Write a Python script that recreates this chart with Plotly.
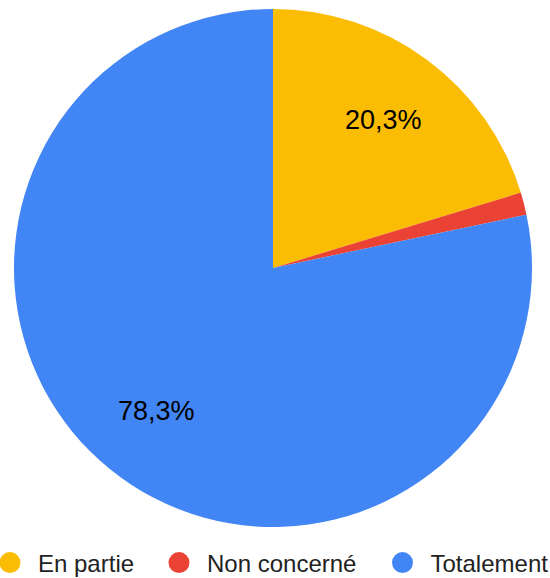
import math
import plotly.graph_objects as go

categories = ["En partie", "Non concerné", "Totalement"]
values = [20.3, 1.4, 78.3]
slice_labels = ["20,3%", "", "78,3%"]
colors = ["#FBBC04", "#EA4335", "#4285F4"]

W, H = 550, 578
cx, cy, r = 273, 268, 259
FONT = "Liberation Sans, Arial, sans-serif"

fig = go.Figure()
fig.add_trace(go.Pie(
    labels=categories,
    values=values,
    textinfo="none",
    sort=False,
    direction="clockwise",
    rotation=0,
    marker=dict(colors=colors, line=dict(width=0)),
    showlegend=False,
    hoverinfo="label+percent",
    domain=dict(x=[(cx - r) / W, (cx + r) / W], y=[(H - cy - r) / H, (H - cy + r) / H]),
))

# slice labels placed at each slice's mid-angle, derived from the values
total = sum(values)
cum = 0.0
for v, t in zip(values, slice_labels):
    mid = (cum + v / 2) / total * 2 * math.pi
    cum += v
    if not t:
        continue
    px = cx + 0.715 * r * math.sin(mid)
    py = cy - 0.712 * r * math.cos(mid)
    fig.add_annotation(
        x=px / W, y=1 - py / H, xref="paper", yref="paper",
        text=t, showarrow=False,
        font=dict(family=FONT, size=27, color="#000000"),
        xanchor="center", yanchor="middle",
    )

legend_names = ["legend", "legend2", "legend3"]
legend_x = [-18, 151, 374.5]
for name, col, lg in zip(categories, colors, legend_names):
    fig.add_trace(go.Scatter(
        x=[None], y=[None], mode="markers", name=name,
        marker=dict(symbol="circle", size=16, color=col, line=dict(color=col, width=5)),
        showlegend=True, legend=lg,
    ))

legend_common = dict(
    orientation="h",
    xanchor="left",
    y=(H - 563) / H, yanchor="middle",
    font=dict(family=FONT, size=24, color="#222222"),
    bgcolor="rgba(0,0,0,0)",
    itemsizing="trace",
    itemwidth=46,
)
layout_legends = {}
for lg, lx in zip(legend_names, legend_x):
    layout_legends[lg] = dict(legend_common, x=lx / W)

fig.update_layout(
    width=W, height=H,
    margin=dict(l=0, r=0, t=0, b=0, autoexpand=False),
    paper_bgcolor="white",
    plot_bgcolor="white",
    xaxis=dict(visible=False),
    yaxis=dict(visible=False),
    **layout_legends,
)

fig.write_html(
    "out.html",
    config={"displayModeBar": False},
    post_script="document.body.style.margin='0';document.body.style.padding='0';",
)
